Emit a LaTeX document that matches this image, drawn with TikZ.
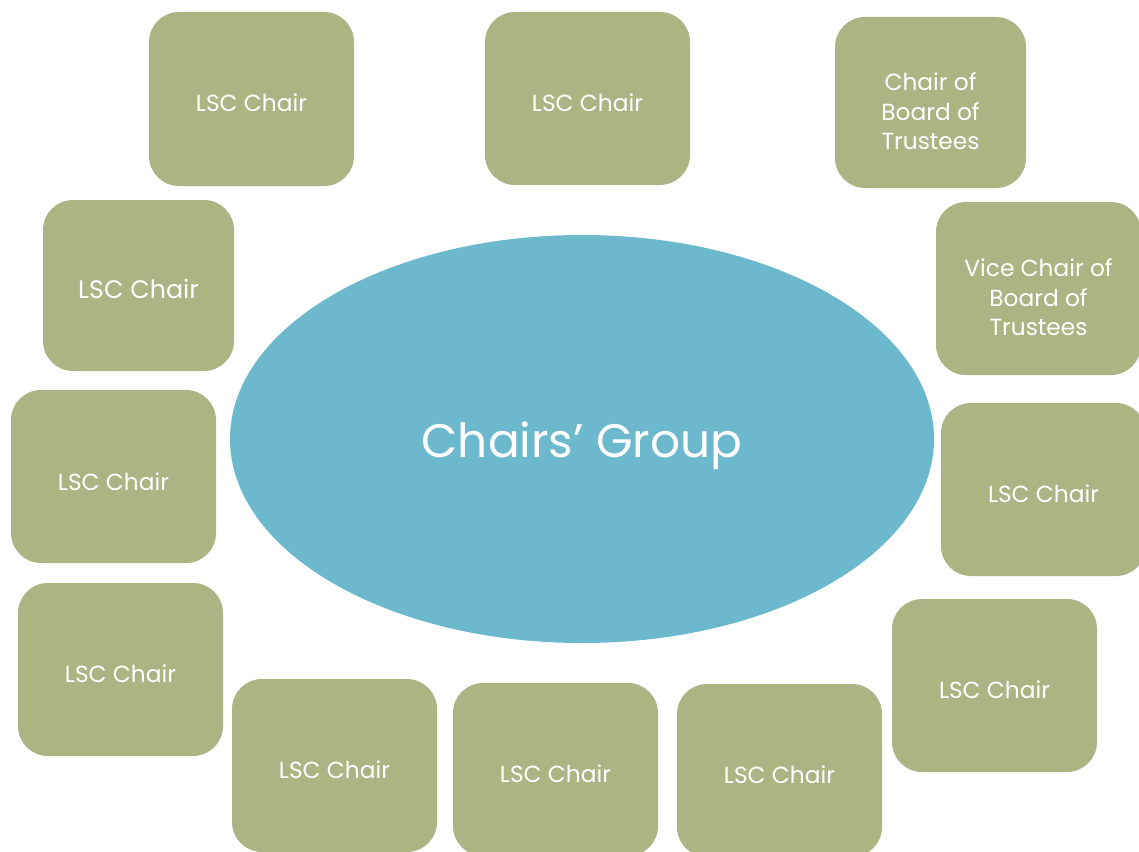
\documentclass[tikz,border=0pt]{standalone}
\usepackage{fontspec}
\setmainfont{Poppins}
\usetikzlibrary{shapes.geometric}
\definecolor{boxgreen}{HTML}{ADB484}
\definecolor{ovalblue}{HTML}{6CB9CE}
\tikzset{
  chairbox/.style={fill=boxgreen, draw=none, rounded corners=30pt, inner sep=0pt},
  chairtext/.style={text=white, align=center, inner sep=0pt, yshift=-4pt,
    font=\fontsize{23.3}{29.5}\selectfont},
  groupoval/.style={ellipse, fill=ovalblue, draw=none, inner sep=0pt,
    minimum width=704pt, minimum height=408pt},
  grouptext/.style={text=white, inner sep=0pt, yshift=-7pt, font=\fontsize{47}{56}\selectfont}
}
\begin{document}
\begin{tikzpicture}[x=1pt,y=-1pt]
\useasboundingbox (0,0) rectangle (1139,851);
\clip (0,0) rectangle (1139,851);
\fill[white] (0,0) rectangle (1139,851);
\node[groupoval, label={[grouptext]center:Chairs’ Group}] (grp) at (582,439) {};
\node[chairbox, minimum width=205pt, minimum height=174pt, label={[chairtext]center:LSC Chair}] (b1) at (251.5,99) {};
\node[chairbox, minimum width=205pt, minimum height=173pt, label={[chairtext]center:LSC Chair}] (b2) at (587.5,98.5) {};
\node[chairbox, minimum width=191pt, minimum height=171pt, label={[chairtext, yshift=-5pt]center:{Chair of\\Board of\\Trustees}}] (b3) at (930.5,102.5) {};
\node[chairbox, minimum width=191pt, minimum height=171pt, label={[chairtext, yshift=1pt, font=\fontsize{25.3}{30}\selectfont]center:LSC Chair}] (b4) at (138.5,285.5) {};
\node[chairbox, minimum width=205pt, minimum height=173pt, label={[chairtext, yshift=-5pt]center:{Vice Chair of\\Board of\\Trustees}}] (b5) at (1038.5,288.5) {};
\node[chairbox, minimum width=205pt, minimum height=173pt, label={[chairtext, yshift=-1pt]center:LSC Chair}] (b6) at (113.5,476.5) {};
\node[chairbox, minimum width=205pt, minimum height=173pt, label={[chairtext]center:LSC Chair}] (b7) at (1043.5,489.5) {};
\node[chairbox, minimum width=205pt, minimum height=173pt, label={[chairtext]center:LSC Chair}] (b8) at (120.5,669.5) {};
\node[chairbox, minimum width=205pt, minimum height=173pt, label={[chairtext]center:LSC Chair}] (b9) at (994.5,685.5) {};
\node[chairbox, minimum width=205pt, minimum height=173pt, label={[chairtext]center:LSC Chair}] (b10) at (334.5,765.5) {};
\node[chairbox, minimum width=205pt, minimum height=173pt, label={[chairtext]center:LSC Chair}] (b11) at (555.5,769.5) {};
\node[chairbox, minimum width=205pt, minimum height=173pt, label={[chairtext]center:LSC Chair}] (b12) at (779.5,770.5) {};
\end{tikzpicture}
\end{document}
